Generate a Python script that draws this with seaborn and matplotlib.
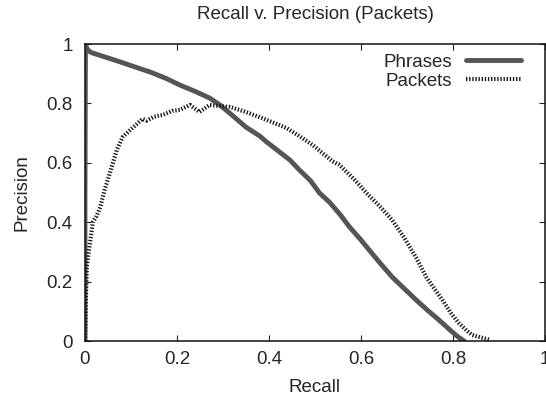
import matplotlib
matplotlib.use("Agg")
import matplotlib.pyplot as plt
from matplotlib.lines import Line2D
import seaborn as sns
import pandas as pd

# Precision/recall curve for phrase-level matching
phrases_recall = [0.0, 0.0, 0.001, 0.004, 0.008, 0.012, 0.02, 0.04, 0.076, 0.11, 0.141,
                  0.175, 0.206, 0.24, 0.271, 0.293, 0.32, 0.35, 0.38, 0.395, 0.42,
                  0.445, 0.466, 0.49, 0.51, 0.531, 0.555, 0.575, 0.60, 0.618, 0.64,
                  0.668, 0.695, 0.72, 0.745, 0.77, 0.795, 0.81, 0.824]
phrases_precision = [0.0, 0.5, 1.0, 0.985, 0.978, 0.972, 0.968, 0.958, 0.94, 0.922, 0.906,
                     0.885, 0.862, 0.84, 0.818, 0.795, 0.76, 0.72, 0.69, 0.67, 0.64,
                     0.61, 0.576, 0.54, 0.498, 0.468, 0.425, 0.384, 0.34, 0.306, 0.265,
                     0.215, 0.175, 0.138, 0.103, 0.07, 0.035, 0.015, 0.0]

# Precision/recall curve for packet-level matching
packets_recall = [0.0, 0.001, 0.002, 0.004, 0.008, 0.011, 0.017, 0.025, 0.033, 0.043,
                  0.058, 0.069, 0.082, 0.098, 0.115, 0.125, 0.134, 0.15, 0.169, 0.19,
                  0.206, 0.228, 0.249, 0.271, 0.30, 0.315, 0.35, 0.386, 0.41, 0.438,
                  0.466, 0.495, 0.538, 0.553, 0.585, 0.612, 0.64, 0.668, 0.695, 0.72,
                  0.742, 0.76, 0.777, 0.795, 0.813, 0.83, 0.842, 0.86, 0.878]
packets_precision = [0.0, 0.05, 0.15, 0.25, 0.30, 0.33, 0.40, 0.42, 0.45, 0.51,
                     0.586, 0.643, 0.687, 0.71, 0.734, 0.748, 0.742, 0.755, 0.761, 0.775,
                     0.778, 0.795, 0.771, 0.795, 0.79, 0.788, 0.771, 0.75, 0.735, 0.717,
                     0.69, 0.66, 0.605, 0.593, 0.545, 0.498, 0.455, 0.407, 0.345, 0.28,
                     0.215, 0.175, 0.138, 0.095, 0.06, 0.035, 0.02, 0.012, 0.005]

x_ticks = [0, 0.2, 0.4, 0.6, 0.8, 1]
y_ticks = [0, 0.2, 0.4, 0.6, 0.8, 1]
tick_labels = ["0", "0.2", "0.4", "0.6", "0.8", "1"]

sns.set_theme(style="ticks")
plt.rcParams["font.family"] = ["Liberation Sans", "DejaVu Sans"]
plt.rcParams["xtick.direction"] = "in"
plt.rcParams["ytick.direction"] = "in"

phrases = pd.DataFrame({"Recall": phrases_recall, "Precision": phrases_precision})
packets = pd.DataFrame({"Recall": packets_recall, "Precision": packets_precision})

fig = plt.figure(figsize=(5.46, 4.05), dpi=100)
ax = fig.add_axes([85 / 546, 64 / 405, 460 / 546, 297 / 405])

phrase_color = "#555555"
packet_color = "#1a1a1a"
packet_dash = (0.33, 0.42)
fs = 13.5

sns.lineplot(data=phrases, x="Recall", y="Precision", ax=ax, sort=False,
             estimator=None, color=phrase_color, linewidth=3.5)
sns.lineplot(data=packets, x="Recall", y="Precision", ax=ax, sort=False,
             estimator=None, color=packet_color, linewidth=3.0, dashes=False)
ax.lines[1].set_dashes(packet_dash)

ax.set_xlim(0, 1)
ax.set_ylim(0, 1)
ax.set_xticks(x_ticks)
ax.set_xticklabels(tick_labels)
ax.set_yticks(y_ticks)
ax.set_yticklabels(tick_labels)
ax.tick_params(axis="both", which="both", top=True, right=True, length=4,
               width=0.8, labelsize=fs, color="#222222")
ax.tick_params(axis="x", pad=7)
ax.tick_params(axis="y", pad=9)
for s in ax.spines.values():
    s.set_visible(True)
    s.set_linewidth(1.1)
    s.set_color("#111111")

ax.set_xlabel("Recall", fontsize=fs, labelpad=8)
ax.set_ylabel("Precision", fontsize=fs, labelpad=11)
ax.set_title("Recall v. Precision (Packets)", fontsize=fs, pad=18)

handles = [
    Line2D([], [], color=phrase_color, linewidth=3.5),
    Line2D([], [], color=packet_color, linewidth=3.0, dashes=packet_dash),
]
ax.legend(handles, ["Phrases", "Packets"], loc="upper right",
          bbox_to_anchor=(0.947, 0.968), frameon=False, markerfirst=False,
          fontsize=fs, handlelength=2.9, handletextpad=0.75,
          labelspacing=0.1, borderpad=0, borderaxespad=0)

fig.savefig("out.png", dpi=100)
